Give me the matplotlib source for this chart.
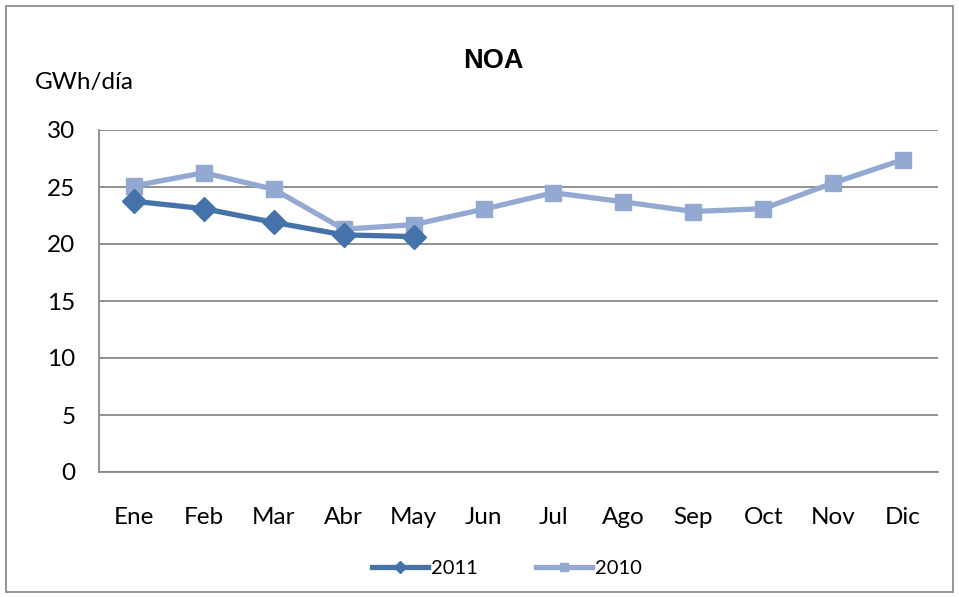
import matplotlib
matplotlib.use("Agg")
import matplotlib.pyplot as plt
from matplotlib.patches import Rectangle

months = ["Ene", "Feb", "Mar", "Abr", "May", "Jun", "Jul", "Ago", "Sep", "Oct", "Nov", "Dic"]
y2011 = [23.75, 23.1, 21.9, 20.8, 20.65]
y2010 = [25.1, 26.25, 24.8, 21.3, 21.7, 23.05, 24.5, 23.7, 22.85, 23.1, 25.35, 27.4]
yticks = [0, 5, 10, 15, 20, 25, 30]

c2011 = "#4672AA"
c2010 = "#93A9D1"
grid_c = "#888888"

fig = plt.figure(figsize=(9.59, 5.97), dpi=100)
ax = fig.add_axes([99/959, 1-472/597, (938-99)/959, (472-130)/597])

x10 = list(range(len(y2010)))
x11 = list(range(len(y2011)))
ax.plot(x10, y2010, color=c2010, lw=3.8, marker="s", ms=11, mec=c2010, label="2010", zorder=3)
ax.plot(x11, y2011, color=c2011, lw=3.8, marker="D", ms=12.5, mec=c2011, label="2011", zorder=4)

ax.set_xlim(-0.5, 11.5)
ax.set_ylim(0, 30)
ax.set_yticks(yticks)
ax.set_xticks(x10)
ax.set_xticklabels(months)
ax.yaxis.grid(True, color=grid_c, lw=1.3)
ax.set_axisbelow(True)
for s in ["top", "right"]:
    ax.spines[s].set_visible(False)
for s in ["left", "bottom"]:
    ax.spines[s].set_color(grid_c)
    ax.spines[s].set_linewidth(1.3)
ax.tick_params(axis="both", length=0, labelsize=17.5)
ax.tick_params(axis="x", pad=25)
ax.tick_params(axis="y", pad=17)
for lbl in ax.get_xticklabels() + ax.get_yticklabels():
    lbl.set_fontfamily("Lato")

fig.text(493/959, 1-61/597, "NOA", ha="center", va="center", fontsize=19.5,
         fontweight="bold", family="Liberation Sans")
fig.text(35/959, 1-82/597, "GWh/día", ha="left", va="center", fontsize=17.5, family="Lato")

handles, labels = ax.get_legend_handles_labels()
order = [1, 0]
leg = fig.legend([handles[i] for i in order], [labels[i] for i in order],
                 loc="center", bbox_to_anchor=(507/959, 1-568/597), ncol=2,
                 frameon=False, markerscale=0.5, handlelength=2.8, columnspacing=2.85,
                 handletextpad=0.15, prop={"family": "Lato", "size": 14.5})

fig.patches.append(Rectangle((6/959, 5/597), (953-6)/959, (591-5)/597,
                             transform=fig.transFigure, fill=False,
                             edgecolor="#8c8c8c", lw=1.3))

fig.savefig("out.png", dpi=100, facecolor="white")
